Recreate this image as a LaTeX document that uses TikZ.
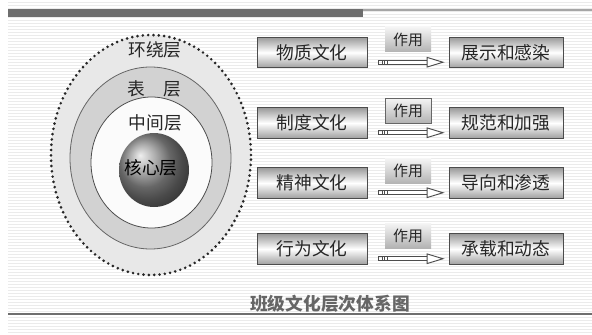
\documentclass[tikz,border=0pt]{standalone}
\usepackage{fontspec}
\setmainfont{Noto Sans CJK SC}
\usetikzlibrary{positioning, shapes.geometric, arrows.meta}
\definecolor{bar}{rgb}{0.43, 0.43, 0.43}
\definecolor{stripe}{rgb}{0.92, 0.92, 0.92}
\tikzset{
    layer/.style={ellipse, inner sep=0pt, outer sep=0pt},
    lbl/.style={font=\fontsize{13.3pt}{14pt}\selectfont, text=black!85, inner sep=0pt},
    culture/.style={draw=black!70, line width=0.6pt,
                    top color=gray!80, bottom color=gray!75, middle color=white,
                    minimum height=23pt, inner sep=0pt,
                    font=\fontsize{13.3pt}{14pt}\selectfont, text=black!85},
    use/.style={top color=gray!8, bottom color=gray!60,
                minimum width=34.5pt, minimum height=18.75pt, inner sep=0pt,
                font=\fontsize{11.2pt}{12pt}\selectfont, text=black!85},
    flow/.style={draw=black!70, line width=0.7pt, double=white, double distance=2.4pt,
                 {Square[open, length=3pt, width=3.5pt, sep=0.8pt]Square[open, length=3pt, width=3.5pt, sep=1pt]}-{Triangle[open, length=13.5pt, width=8pt, fill=white]}}
}
\begin{document}
\begin{tikzpicture}[x=0.75pt, y=-0.75pt]
    \useasboundingbox (0,0) rectangle (592,335);
    % background
    \fill[stripe] (8,0) rectangle (592,335);
    \foreach \y in {1,4,...,334}
        \draw[white, line width=0.9pt] (8,\y) -- (592,\y);
    \fill[bar] (8,9) rectangle (363,17);
    \draw[gray!70, line width=0.8pt] (363,10) -- (592,10);
    \draw[bar, line width=1pt] (8,314) -- (592,314);

    % layers
    \node [layer, fill=gray!18, minimum width=150pt, minimum height=180pt,
           draw=black!85, line width=2.2pt, line cap=round, dash pattern=on 0pt off 4pt]
           (around) at (151,155) {};
    \node [layer, fill=gray!35, draw=black!60, line width=0.6pt,
           minimum width=120.75pt, minimum height=136.5pt] (surface) at (150.5,158) {};
    \node [layer, fill=gray!3, draw=black!70, line width=0.6pt,
           minimum width=90.75pt, minimum height=98.25pt] (middle) at (151.5,162.5) {};
    \node [layer, ball color=gray!85, minimum width=52.5pt, minimum height=55.5pt]
           (core) at (154,170) {};

    \node [lbl, below=5pt of around.north, xshift=3pt] (aroundtext) {环绕层};
    \node [lbl, below=10pt of surface.north, xshift=3pt] (surfacetext) {表\hspace{1em}层};
    \node [lbl, below=13pt of middle.north, xshift=3pt] (middletext) {中间层};
    \node [lbl, text=black] (coretext) at (151,168) {核心层};

    % culture rows
    \node [culture, minimum width=82.5pt] (m1) at (312,52.5) {物质文化};
    \node [culture, minimum width=82.5pt] (m2) at (312,123)  {制度文化};
    \node [culture, minimum width=82.5pt] (m3) at (312,183)  {精神文化};
    \node [culture, minimum width=82.5pt] (m4) at (312,249)  {行为文化};

    \node [culture, minimum width=85.5pt] (r1) at (506,52.5) {展示和感染};
    \node [culture, minimum width=85.5pt] (r2) at (506,123)  {规范和加强};
    \node [culture, minimum width=85.5pt] (r3) at (506,183)  {导向和渗透};
    \node [culture, minimum width=85.5pt] (r4) at (506,249)  {承载和动态};

    \node [use] (u1) at (408,39.5)  {作用};
    \node [use, draw=black!60, line width=0.5pt] (u2) at (408,110.5) {作用};
    \node [use] (u3) at (408,171)   {作用};
    \node [use] (u4) at (408,235.5) {作用};

    \foreach \i in {1,...,4}
        \draw [flow] ([xshift=7.5pt, yshift=4.5pt]m\i.south east)
                  -- ([xshift=-3pt, yshift=4.5pt]r\i.south west);

    \node [font=\fontsize{13.3pt}{14pt}\selectfont\bfseries, text=black!60] (title)
          at (330,304) {班级文化层次体系图};
\end{tikzpicture}
\end{document}
